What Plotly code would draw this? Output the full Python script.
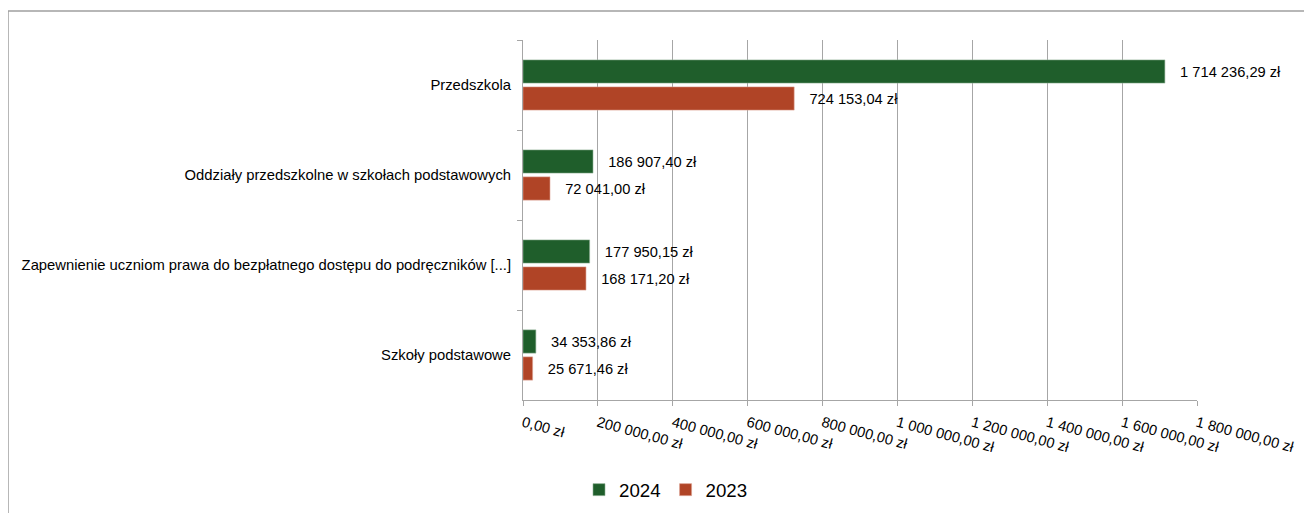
import plotly.graph_objects as go

categories = [
    "Przedszkola",
    "Oddziały przedszkolne w szkołach podstawowych",
    "Zapewnienie uczniom prawa do bezpłatnego dostępu do podręczników [...]",
    "Szkoły podstawowe",
]
values_2024 = [1714236.29, 186907.40, 177950.15, 34353.86]
values_2023 = [724153.04, 72041.00, 168171.20, 25671.46]
x_tickvals = [0, 200000, 400000, 600000, 800000, 1000000, 1200000, 1400000, 1600000, 1800000]


def fmt(v):
    s = f"{v:,.2f}"
    s = s.replace(",", " ").replace(".", ",")
    return s + " zł"


x_ticktext = [fmt(v) for v in x_tickvals]

GREEN = "#1f5e2b"
RED = "#b04426"
PAD = "\u00a0" * 3
FS = 14.67

fig = go.Figure()
fig.add_trace(go.Bar(
    name="2024", y=categories, x=values_2024, orientation="h",
    marker=dict(color=GREEN, line=dict(color="#8fb096", width=0.6)),
    text=[PAD + fmt(v) for v in values_2024], textposition="outside",
    cliponaxis=False, constraintext="none",
    textfont=dict(size=FS, color="#000000", family="Liberation Sans"),
))
fig.add_trace(go.Bar(
    name="2023", y=categories, x=values_2023, orientation="h",
    marker=dict(color=RED, line=dict(color="#dca08f", width=0.6)),
    text=[PAD + fmt(v) for v in values_2023], textposition="outside",
    cliponaxis=False, constraintext="none",
    textfont=dict(size=FS, color="#000000", family="Liberation Sans"),
))

# page has an 8px body margin, so the figure is drawn 8px right/down
W, H = 1304, 505
L, T = 515, 32
pw, ph = 674, 360
R, B = W - L - pw, H - T - ph

fig.update_layout(
    width=W, height=H,
    margin=dict(l=L, r=R, t=T, b=B, pad=0, autoexpand=False),
    paper_bgcolor="white", plot_bgcolor="white",
    barmode="group", bargap=0.4, bargroupgap=0.14,
    font=dict(family="Liberation Sans", size=FS, color="#000000"),
    showlegend=True,
    legend=dict(orientation="h", x=(658 - L) / pw, xanchor="center",
                y=(T + ph - 463) / ph, yanchor="top",
                font=dict(size=18.7), itemwidth=30, traceorder="normal"),
    xaxis=dict(range=[0, 1800000], tickvals=x_tickvals, ticktext=x_ticktext,
               tickangle=15, showgrid=True, gridcolor="#a6a6a6", gridwidth=1,
               showline=True, linecolor="#a6a6a6", linewidth=1,
               ticks="outside", ticklen=5, tickcolor="#a6a6a6",
               zeroline=False, tickfont=dict(size=FS), ticklabelstandoff=3,
               automargin=False),
    yaxis=dict(autorange="reversed", showgrid=False, showline=True,
               linecolor="#a6a6a6", linewidth=1, ticks="outside", ticklen=5,
               tickcolor="#a6a6a6", tickson="boundaries",
               tickfont=dict(size=14.8), ticklabelstandoff=8, automargin=False),
)

fig.add_shape(type="rect", xref="paper", yref="paper",
              x0=(0 - L) / pw, x1=(1330 - L) / pw,
              y0=(T + ph - 530) / ph, y1=(T + ph - 3) / ph,
              line=dict(color="#a0a0a0", width=1.5), fillcolor="rgba(0,0,0,0)",
              layer="below")

fig.write_html("out.html")
